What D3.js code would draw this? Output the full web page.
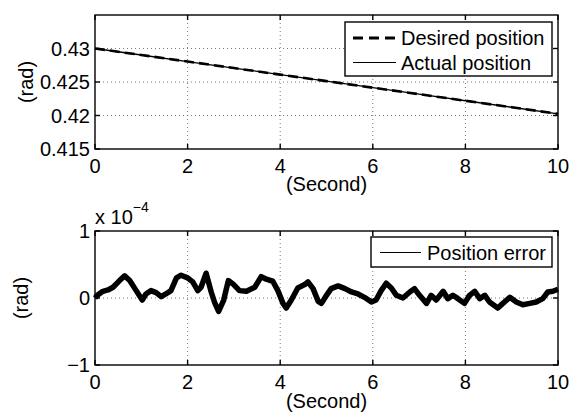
<!DOCTYPE html>
<html>
<head>
<meta charset="UTF-8">
<script src="https://d3js.org/d3.v7.min.js"></script>
<style>
  * { margin: 0; padding: 0; }
  body { background: #fff; width: 571px; height: 413px; overflow: hidden; }
  svg { display: block; font-family: 'Liberation Sans', Arial, Helvetica, sans-serif; }
</style>
</head>
<body>
<svg id="chart" width="571" height="413"></svg>
<script>
// 위쪽 그림: 원하는 위치 / 실제 위치 (rad), 1초 간격으로 읽음
const posTime = [0, 1, 2, 3, 4, 5, 6, 7, 8, 9, 10];
const desiredPos = [0.43, 0.42903, 0.42805, 0.42708, 0.4261, 0.42513, 0.42415, 0.42318, 0.4222, 0.42123, 0.42025];
const actualPos  = [0.43, 0.42903, 0.42805, 0.42708, 0.4261, 0.42513, 0.42415, 0.42318, 0.4222, 0.42123, 0.42025];

// 아래쪽 그림: 위치 오차 (x 10^-4 rad)
const errTime = [0, 0.05, 0.17, 0.28, 0.39, 0.53, 0.64, 0.75, 0.89, 1.02, 1.1, 1.21, 1.32, 1.43, 1.53, 1.64, 1.76, 1.86, 2.0, 2.11,
  2.22, 2.29, 2.4, 2.51, 2.58, 2.67, 2.78, 2.88, 2.98, 3.12, 3.27, 3.45, 3.59, 3.7, 3.84, 3.95, 4.06, 4.13, 4.24, 4.38,
  4.53, 4.6, 4.71, 4.82, 4.89, 5.0, 5.1, 5.25, 5.4, 5.54, 5.68, 5.82, 5.97, 6.07, 6.18, 6.29, 6.4, 6.51, 6.65, 6.8,
  6.9, 7.01, 7.16, 7.26, 7.37, 7.52, 7.62, 7.73, 7.84, 7.98, 8.09, 8.2, 8.31, 8.42, 8.52, 8.7, 8.81, 8.96, 9.1, 9.24,
  9.39, 9.53, 9.67, 9.78, 9.89, 10];
const errValue = [0.0, 0.04, 0.1, 0.12, 0.16, 0.26, 0.33, 0.26, 0.11, -0.03, 0.06, 0.11, 0.08, 0.02, 0.06, 0.11, 0.3, 0.34, 0.3, 0.24,
  0.11, 0.16, 0.37, 0.09, -0.06, -0.2, -0.03, 0.26, 0.21, 0.11, 0.1, 0.16, 0.32, 0.28, 0.25, 0.11, -0.08, -0.15, -0.03, 0.15,
  0.2, 0.24, 0.14, -0.05, -0.08, 0.04, 0.14, 0.18, 0.14, 0.09, 0.06, 0.01, -0.06, -0.03, 0.11, 0.22, 0.15, 0.04, 0.0, 0.09,
  0.14, 0.04, -0.08, 0.04, -0.03, 0.1, -0.01, 0.04, -0.01, -0.08, 0.04, 0.1, -0.01, 0.04, -0.06, -0.15, -0.08, 0.01, -0.06, -0.1,
  -0.08, -0.06, -0.01, 0.09, 0.1, 0.13];

const xTicks = [0, 2, 4, 6, 8, 10];
const topYTicks = [0.415, 0.42, 0.425, 0.43];
const topYLabels = ['0.415', '0.42', '0.425', '0.43'];
const botYTicks = [-1, 0, 1];
const botYLabels = ['\u22121', '0', '1'];
const topLegend = ['Desired position', 'Actual position'];
const botLegend = ['Position error'];

const FS = 20;
const svg = d3.select('#chart');

function panel(cfg) {
  const x = d3.scaleLinear().domain([0, 10]).range([95, 558]);
  const y = d3.scaleLinear().domain(cfg.yDomain).range([cfg.bottom, cfg.top]);
  const g = svg.append('g');

  // 점선 격자
  const grid = g.append('g').attr('stroke', '#555').attr('stroke-width', 0.8).attr('stroke-dasharray', '1 3');
  xTicks.slice(1, -1).forEach(t => {
    grid.append('line').attr('x1', x(t)).attr('x2', x(t)).attr('y1', cfg.top).attr('y2', cfg.bottom);
  });
  cfg.yTicks.filter(t => y(t) > cfg.top + 1 && y(t) < cfg.bottom - 1).forEach(t => {
    grid.append('line').attr('x1', 95).attr('x2', 558).attr('y1', y(t)).attr('y2', y(t));
  });

  cfg.draw(g, x, y);

  // 축 상자와 안쪽 눈금
  const box = g.append('g').attr('stroke', '#000').attr('stroke-width', 1.4).attr('fill', 'none');
  box.append('rect').attr('x', 95).attr('y', cfg.top).attr('width', 463).attr('height', cfg.bottom - cfg.top);
  xTicks.forEach(t => {
    box.append('line').attr('x1', x(t)).attr('x2', x(t)).attr('y1', cfg.bottom).attr('y2', cfg.bottom - 5);
    box.append('line').attr('x1', x(t)).attr('x2', x(t)).attr('y1', cfg.top).attr('y2', cfg.top + 5);
  });
  cfg.yTicks.forEach(t => {
    box.append('line').attr('x1', 95).attr('x2', 100).attr('y1', y(t)).attr('y2', y(t));
    box.append('line').attr('x1', 558).attr('x2', 553).attr('y1', y(t)).attr('y2', y(t));
  });

  // 눈금 라벨
  xTicks.forEach(t => {
    g.append('text').attr('x', x(t)).attr('y', cfg.bottom + 24).attr('text-anchor', 'middle')
      .attr('font-size', FS).text(t);
  });
  cfg.yTicks.forEach((t, i) => {
    g.append('text').attr('x', 90).attr('y', y(t)).attr('dy', '0.36em').attr('text-anchor', 'end')
      .attr('font-size', FS).text(cfg.yLabels[i]);
  });
  g.append('text').attr('x', 326.5).attr('y', cfg.xLabelY).attr('text-anchor', 'middle')
    .attr('font-size', FS).text('(Second)');
  g.append('text').attr('transform', `translate(${cfg.yLabelX},${(cfg.top + cfg.bottom) / 2}) rotate(-90)`)
    .attr('dy', '0.33em').attr('text-anchor', 'middle').attr('font-size', FS).text('(rad)');
  return g;
}

function legend(g, bx, by, bw, bh, items) {
  g.append('rect').attr('x', bx).attr('y', by).attr('width', bw).attr('height', bh)
    .attr('fill', '#fff').attr('stroke', '#000').attr('stroke-width', 1.4);
  items.forEach(it => {
    g.append('line').attr('x1', it.x1).attr('x2', it.x2).attr('y1', it.y).attr('y2', it.y)
      .attr('stroke', '#000').attr('stroke-width', it.w).attr('stroke-dasharray', it.dash || null);
    g.append('text').attr('x', it.tx).attr('y', it.y).attr('dy', '0.36em')
      .attr('font-size', FS).text(it.label);
  });
}

// 위쪽 그림
panel({
  top: 15, bottom: 149, yDomain: [0.415, 0.435], yTicks: topYTicks, yLabels: topYLabels,
  xLabelY: 191, yLabelX: 26,
  draw: (g, x, y) => {
    const line = d3.line().x((d, i) => x(posTime[i])).y(d => y(d));
    g.append('path').datum(desiredPos).attr('d', line).attr('fill', 'none')
      .attr('stroke', '#000').attr('stroke-width', 2.6).attr('stroke-dasharray', '10 5');
    g.append('path').datum(actualPos).attr('d', line).attr('fill', 'none')
      .attr('stroke', '#000').attr('stroke-width', 1.3);
    legend(g, 345, 22, 207, 54, [
      { x1: 353, x2: 396, y: 38, w: 3, dash: '10 6', tx: 401, label: topLegend[0] },
      { x1: 353, x2: 396, y: 62.5, w: 1, tx: 401, label: topLegend[1] }
    ]);
  }
});

// 아래쪽 그림
panel({
  top: 231, bottom: 365, yDomain: [-1, 1], yTicks: botYTicks, yLabels: botYLabels,
  xLabelY: 408, yLabelX: 21,
  draw: (g, x, y) => {
    const line = d3.line().x((d, i) => x(errTime[i])).y(d => y(d));
    g.append('path').datum(errValue).attr('d', line).attr('fill', 'none')
      .attr('stroke', '#000').attr('stroke-width', 5.5).attr('stroke-linejoin', 'round');
    g.append('path').datum(errValue).attr('d', line).attr('fill', 'none')
      .attr('stroke', '#000').attr('stroke-width', 1);
    legend(g, 371, 237, 181, 30, [
      { x1: 380, x2: 421, y: 252.5, w: 1, tx: 427, label: botLegend[0] }
    ]);
  }
});

// 지수 표시 x 10^-4
const exp = svg.append('text').attr('x', 95).attr('y', 223.5).attr('font-size', FS);
exp.append('tspan').text('x 10');
exp.append('tspan').attr('font-size', 14).attr('dy', -12).text('\u22124');
</script>
</body>
</html>
